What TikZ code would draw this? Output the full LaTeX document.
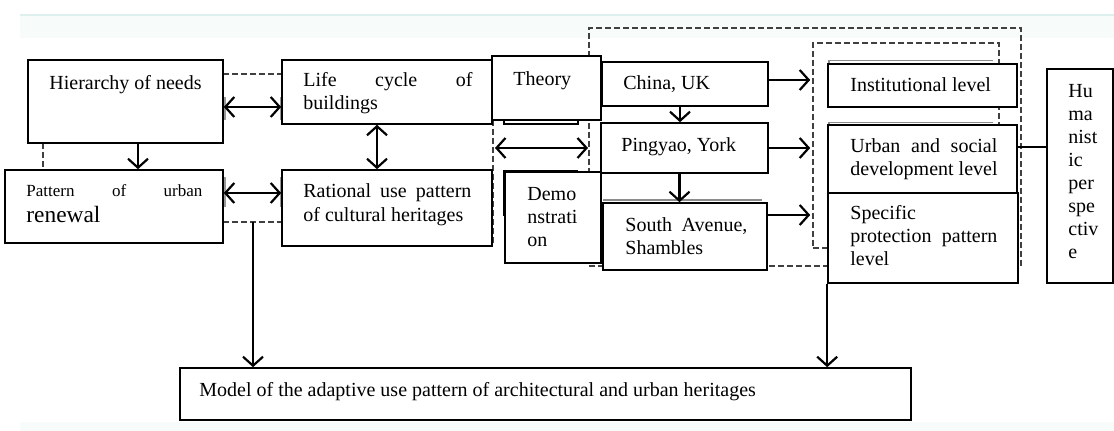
\documentclass[tikz,border=0pt]{standalone}
\usepackage{fontspec}
\setmainfont{Liberation Serif}
\usetikzlibrary{arrows.meta,fit,calc}
\definecolor{bandline}{RGB}{222,240,238}
\definecolor{bandfill}{RGB}{247,252,251}
\begin{document}
\begin{tikzpicture}[x=0.5pt,y=-0.5pt,
  bx/.style={draw, line width=0.8pt, fill=white, inner sep=0pt},
  dsh/.style={draw=black!75, line width=0.8pt, dash pattern=on 3pt off 1.5pt, inner sep=0pt},
  shd/.style={draw=black!45, line width=0.6pt},
  txt/.style={inner sep=0pt, align=left, font=\fontsize{10}{11.5}\selectfont},
  arr/.style={line width=1.1pt, -{Straight Barb[length=4.5pt,width=10pt]}},
  darr/.style={line width=1.1pt, {Straight Barb[length=4.5pt,width=10pt]}-{Straight Barb[length=4.5pt,width=10pt]}},
]
\useasboundingbox (0,0) rectangle (1114,431);
% faint page bands
\fill[bandfill] (20,15) rectangle (1114,38);
\draw[bandline, line width=0.6pt] (20,15) -- (1114,15);
\fill[bandfill] (20,422) rectangle (1114,431);

% dashed frames
\node[dsh, fit={(589,28)(1021,266)}] (outer) {};
\node[dsh, fit={(813,43)(999,248)}] (inner) {};
\draw[dsh] (223,74) -- (282,74);
\draw[dsh] (223,222) -- (282,222);
\draw[dsh] (43,143) -- (43,170);
\draw[dsh] (493,120) -- (493,246);

% shadow / doubled edges
\draw[shd] (829,66) -- (829,60.5) -- (993,60.5);
\draw[shd] (829,128) -- (829,122.5) -- (993,122.5);
\draw[shd] (603,200) -- (762,200);
\draw[line width=0.8pt] (504,216) -- (504,171) -- (578,171);
\draw[black!40, line width=1.2pt] (225,97) -- (225,120) (281,97) -- (281,120)
  (225,177) -- (225,207) (281,177) -- (281,207);

% boxes
\node[bx, fit={(28,60)(223,143)}] (hier) {};
\node[bx, fit={(5,170)(223,243)}] (pat) {};
\node[bx, fit={(282,60)(492,124)}] (life) {};
\node[bx, fit={(282,170)(492,246)}] (rat) {};
\node[bx, fit={(492,56)(601,120)}] (theory) {};
\draw[line width=0.8pt] (504,120) -- (504,124) -- (578,124) -- (578,120);
\node[bx, fit={(505,172)(601,263)}] (demo) {};
\node[bx, fit={(602,62)(768,106)}] (china) {};
\node[bx, fit={(601,123)(768,173)}] (ping) {};
\node[bx, fit={(603,203)(767,270)}] (south) {};
\node[bx, fit={(828,64)(1017,107)}] (inst) {};
\node[bx, fit={(828,125)(1017,193)}] (urban) {};
\node[bx, fit={(828,193)(1018,283)}] (spec) {};
\node[bx, fit={(1047,69)(1113,283)}] (hum) {};
\node[bx, fit={(180,368)(911,420)}] (model) {};

% texts (base anchor = baseline of the last line)
\node[txt, anchor=base] (thier) at (125.5,90) {Hierarchy of needs};
\node[txt, anchor=base west, font=\fontsize{8.5}{10}\selectfont] (tpat) at (26,197) {\makebox[88pt][s]{Pattern of urban}};
\node[txt, anchor=base west, font=\fontsize{11.7}{13}\selectfont] (tren) at (26,223) {renewal};
\node[txt, anchor=base west] (tlife) at (303,110) {\makebox[84.5pt][s]{Life cycle of}\\buildings};
\node[txt, anchor=base west, font=\fontsize{10}{12}\selectfont] (trat) at (303,222) {\makebox[84pt][s]{Rational use pattern}\\of cultural heritages};
\node[txt, anchor=base west] (ttheory) at (513,86) {Theory};
\node[txt, anchor=base west] (tdemo) at (527,247) {Demo\\nstrati\\on};
\node[txt, anchor=base west] (tchina) at (623,90) {China, UK};
\node[txt, anchor=base west] (tping) at (621,152) {Pingyao, York};
\node[txt, anchor=base west] (tsouth) at (625,255) {\makebox[61pt][s]{South Avenue,}\\Shambles};
\node[txt, anchor=base west] (tinst) at (850,92) {Institutional level};
\node[txt, anchor=base west] (turban) at (850,176) {\makebox[73.5pt][s]{Urban and social}\\development level};
\node[txt, anchor=base west] (tspec) at (850,266) {Specific\\\makebox[73.5pt][s]{protection pattern}\\level};
\node[txt, anchor=base west] (thum) at (1068,259) {Hu\\ma\\nist\\ic\\per\\spe\\ctiv\\e};
\node[txt, anchor=base west] (tmodel) at (199,397) {Model of the adaptive use pattern of architectural and urban heritages};

% connectors
\coordinate (a1) at ([yshift=-2.75pt]hier.east);
\draw[darr] (a1) -- (a1 -| life.west);
\coordinate (a2) at ([xshift=6.25pt]hier.south);
\draw[arr] (a2) -- (a2 |- pat.north);
\coordinate (a3) at ([xshift=-5pt]life.south);
\draw[darr] (a3) -- (a3 |- rat.north);
\coordinate (a4) at ([yshift=6.75pt]pat.east);
\draw[darr] (a4) -- (a4 -| rat.west);
\coordinate (tdL) at (495,148);
\coordinate (tdR) at (588,148);
\draw[darr] (tdL) -- (tdR);
\coordinate (a6) at ([xshift=-2.5pt]china.south);
\draw[arr] (a6) -- (a6 |- ping.north);
\coordinate (a7) at ([xshift=-2.5pt]ping.south);
\draw[arr] (a7) -- (a7 |- south.north);
\coordinate (a8) at ([yshift=2pt]china.east);
\draw[arr, shorten >=1pt] (a8) -- (a8 -| inner.west);
\draw[arr, shorten >=1pt] (ping.east) -- (ping.east -| inner.west);
\coordinate (a10) at ([yshift=10.75pt]south.east);
\draw[arr, shorten >=1pt] (a10) -- (a10 -| inner.west);
\coordinate (a11) at ([yshift=6pt]urban.east);
\draw[line width=1.1pt] (a11) -- (a11 -| hum.west);
\coordinate (lf) at (253,222);
\draw[arr] (lf) -- (lf |- model.north);
\draw[arr] (spec.south west) -- (spec.south west |- model.north);
\end{tikzpicture}
\end{document}
